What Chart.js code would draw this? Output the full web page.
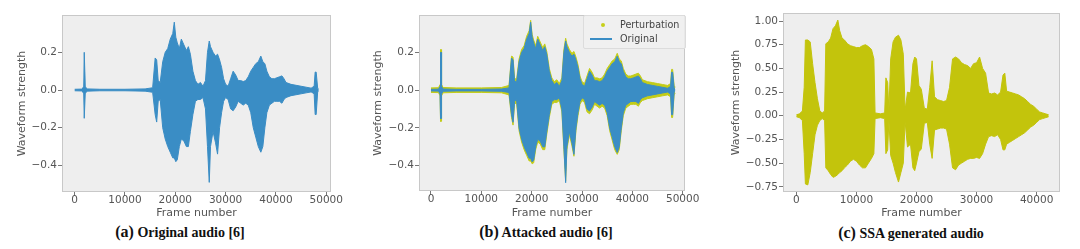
<!DOCTYPE html>
<html>
<head>
<meta charset="utf-8">
<script src="https://cdn.jsdelivr.net/npm/chart.js@4.4.1/dist/chart.umd.min.js"></script>
<style>
  body { margin: 0; background: #fff; width: 1080px; height: 249px; overflow: hidden; position: relative; }
  canvas { position: absolute; top: 0; }
  .cap { position: absolute; font-family: "Liberation Serif", "DejaVu Serif", serif; font-weight: bold; font-size: 14px; color: #111; white-space: nowrap; transform: translate(-50%, -50%); }
  .cap b { font-size: 16px; }
  .legend { position: absolute; font-family: "DejaVu Sans", sans-serif; font-size: 9.6px; color: #444; border: 1px solid #dcdcdc; border-radius: 2px; background: rgba(240,240,240,0.8); padding: 2px 6px 3px 0; }
  .legend div { position: relative; height: 13.5px; line-height: 13.5px; padding-left: 36px; }
  .legend .dot { position: absolute; left: 17px; top: 5px; width: 4px; height: 4px; border-radius: 2px; background: #c7cf1a; }
  .legend .ln { position: absolute; left: 6px; top: 6px; width: 22px; height: 2px; background: #3a8dc5; }
</style>
</head>
<body>
<canvas id="chartA" width="360" height="220" style="left:0px"></canvas>
<canvas id="chartB" width="360" height="220" style="left:360px"></canvas>
<canvas id="chartC" width="360" height="220" style="left:720px"></canvas>
<div class="legend" style="left:583px; top:15px;">
  <div><span class="dot"></span>Perturbation</div>
  <div><span class="ln"></span>Original</div>
</div>
<div class="cap" style="left:180px; top:232px;"><b>(a)</b> Original audio [6]</div>
<div class="cap" style="left:546px; top:232px;"><b>(b)</b> Attacked audio [6]</div>
<div class="cap" style="left:911px; top:233px;"><b>(c)</b> SSA generated audio</div>
<script>
// frame positions shared by the original / attacked audio
const frames = [0, 1500, 1800, 1900, 2000, 2100, 2400, 5000, 10000, 14000, 15500, 16000, 16300, 16600, 17000, 17500, 18000, 18500, 19000, 19500, 19800, 20100, 20400, 20800, 21200, 21700, 22200, 22600, 23000, 23500, 24000, 24500, 25000, 25500, 26000, 26400, 26750, 27000, 27500, 28000, 28400, 28800, 29200, 29600, 30000, 30500, 31000, 31500, 32000, 32500, 33000, 33500, 34000, 34500, 35000, 35500, 36000, 36500, 37000, 37400, 37800, 38200, 38700, 39200, 39700, 40200, 40700, 41200, 41600, 42000, 43000, 44000, 45000, 46000, 47000, 47600, 47800, 48000, 48300, 48500];

const origUpper = [0.004, 0.005, 0.02, 0.2, 0.2, 0.02, 0.006, 0.004, 0.004, 0.006, 0.012, 0.17, 0.16, 0.05, 0.04, 0.15, 0.2, 0.22, 0.27, 0.3, 0.36, 0.28, 0.25, 0.22, 0.27, 0.24, 0.21, 0.23, 0.19, 0.1, 0.05, 0.03, 0.04, 0.02, 0.05, 0.2, 0.26, 0.23, 0.2, 0.18, 0.19, 0.16, 0.12, 0.06, 0.03, 0.02, 0.06, 0.1, 0.08, 0.05, 0.05, 0.045, 0.05, 0.07, 0.1, 0.12, 0.14, 0.15, 0.18, 0.15, 0.14, 0.1, 0.07, 0.06, 0.06, 0.065, 0.07, 0.075, 0.06, 0.04, 0.03, 0.025, 0.02, 0.015, 0.01, 0.02, 0.095, 0.095, 0.01, 0.005];
const origLower = [-0.004, -0.005, -0.02, -0.15, -0.15, -0.02, -0.006, -0.004, -0.004, -0.006, -0.012, -0.13, -0.17, -0.06, -0.05, -0.2, -0.26, -0.3, -0.33, -0.36, -0.36, -0.38, -0.37, -0.3, -0.26, -0.27, -0.3, -0.3, -0.22, -0.13, -0.06, -0.05, -0.05, -0.04, -0.1, -0.3, -0.49, -0.3, -0.22, -0.28, -0.34, -0.2, -0.12, -0.06, -0.04, -0.05, -0.1, -0.11, -0.09, -0.06, -0.07, -0.08, -0.07, -0.08, -0.12, -0.2, -0.25, -0.3, -0.33, -0.3, -0.2, -0.12, -0.08, -0.07, -0.06, -0.06, -0.06, -0.07, -0.05, -0.04, -0.03, -0.025, -0.02, -0.015, -0.01, -0.02, -0.13, -0.13, -0.01, -0.005];

const pertUpper = [0.012, 0.013, 0.03, 0.215, 0.215, 0.03, 0.014, 0.012, 0.012, 0.014, 0.025, 0.18, 0.175, 0.065, 0.055, 0.165, 0.215, 0.235, 0.285, 0.315, 0.37, 0.295, 0.265, 0.235, 0.285, 0.255, 0.225, 0.245, 0.205, 0.115, 0.065, 0.045, 0.055, 0.035, 0.065, 0.215, 0.275, 0.245, 0.215, 0.195, 0.205, 0.175, 0.135, 0.075, 0.045, 0.035, 0.075, 0.115, 0.095, 0.065, 0.065, 0.06, 0.065, 0.085, 0.115, 0.135, 0.155, 0.165, 0.195, 0.165, 0.155, 0.115, 0.085, 0.075, 0.075, 0.08, 0.085, 0.09, 0.075, 0.055, 0.045, 0.04, 0.035, 0.03, 0.025, 0.035, 0.11, 0.11, 0.025, 0.015];
const pertLower = [-0.012, -0.013, -0.03, -0.165, -0.165, -0.03, -0.014, -0.012, -0.012, -0.014, -0.025, -0.145, -0.185, -0.075, -0.065, -0.215, -0.275, -0.315, -0.345, -0.375, -0.375, -0.39, -0.385, -0.315, -0.275, -0.285, -0.315, -0.315, -0.235, -0.145, -0.075, -0.065, -0.065, -0.055, -0.115, -0.315, -0.48, -0.315, -0.235, -0.295, -0.35, -0.215, -0.135, -0.075, -0.055, -0.065, -0.115, -0.125, -0.105, -0.075, -0.085, -0.095, -0.085, -0.095, -0.135, -0.215, -0.265, -0.315, -0.34, -0.315, -0.215, -0.135, -0.095, -0.085, -0.075, -0.075, -0.075, -0.085, -0.065, -0.055, -0.045, -0.04, -0.035, -0.03, -0.025, -0.035, -0.145, -0.145, -0.025, -0.015];

// SSA generated audio
const ssaFrames = [0, 500, 1000, 1300, 1500, 1900, 2300, 2700, 3100, 3500, 3900, 4300, 4700, 4900, 5300, 5700, 6100, 6500, 6900, 7200, 7600, 8000, 8500, 9000, 9500, 10000, 10500, 11000, 11500, 12000, 12500, 12900, 13100, 14000, 14700, 14900, 15200, 15400, 15700, 16100, 16500, 17000, 17400, 17800, 18100, 18500, 19000, 19400, 19700, 20000, 20400, 20800, 21300, 21800, 22200, 22600, 23000, 23500, 24000, 24500, 25000, 25500, 26000, 26500, 27000, 27500, 28000, 28500, 29000, 29500, 30000, 30500, 31000, 31500, 32000, 32500, 33000, 33500, 34000, 34400, 34700, 35000, 35500, 36000, 36500, 37000, 37500, 38000, 38500, 39000, 39500, 40000, 40500, 41000, 41500, 42000];
const ssaUpper = [0.01, 0.02, 0.05, 0.3, 0.8, 0.8, 0.78, 0.55, 0.35, 0.18, 0.05, 0.03, 0.05, 0.76, 0.78, 0.82, 0.92, 0.95, 1.01, 0.9, 0.82, 0.8, 0.76, 0.74, 0.73, 0.72, 0.72, 0.74, 0.75, 0.73, 0.7, 0.6, 0.03, 0.02, 0.03, 0.4, 0.35, 0.05, 0.6, 0.78, 0.83, 0.85, 0.8, 0.65, 0.06, 0.25, 0.24, 0.55, 0.62, 0.6, 0.32, 0.28, 0.08, 0.07, 0.3, 0.58, 0.2, 0.17, 0.16, 0.15, 0.16, 0.3, 0.6, 0.62, 0.6, 0.56, 0.54, 0.53, 0.5, 0.55, 0.56, 0.62, 0.5, 0.45, 0.24, 0.23, 0.24, 0.22, 0.25, 0.43, 0.45, 0.26, 0.25, 0.24, 0.23, 0.22, 0.2, 0.18, 0.15, 0.12, 0.1, 0.07, 0.04, 0.03, 0.02, 0.01];
const ssaLower = [-0.01, -0.02, -0.05, -0.4, -0.72, -0.73, -0.6, -0.4, -0.2, -0.1, -0.05, -0.03, -0.05, -0.55, -0.58, -0.62, -0.65, -0.64, -0.62, -0.6, -0.58, -0.55, -0.52, -0.48, -0.46, -0.48, -0.52, -0.55, -0.55, -0.5, -0.45, -0.4, -0.03, -0.02, -0.03, -0.4, -0.36, -0.05, -0.42, -0.5, -0.6, -0.7, -0.6, -0.5, -0.06, -0.33, -0.3, -0.55, -0.58, -0.5, -0.38, -0.35, -0.08, -0.07, -0.3, -0.45, -0.15, -0.14, -0.13, -0.13, -0.14, -0.3, -0.55, -0.57, -0.52, -0.5, -0.48, -0.46, -0.45, -0.45, -0.44, -0.45, -0.4, -0.3, -0.22, -0.21, -0.22, -0.2, -0.25, -0.36, -0.36, -0.3, -0.28, -0.26, -0.24, -0.22, -0.2, -0.18, -0.15, -0.12, -0.1, -0.07, -0.04, -0.03, -0.02, -0.01];

const xTicksAB = [0, 10000, 20000, 30000, 40000, 50000];
const xTicksC = [0, 10000, 20000, 30000, 40000];
const yTicksAB = [-0.4, -0.2, 0.0, 0.2];
const yTicksC = [-0.75, -0.5, -0.25, 0.0, 0.25, 0.5, 0.75, 1.0];

const BLUE = '#3a8dc5';
const OLIVE = '#c3c40c';
const PERT = '#c2cc18';

const pts = (xs, ys) => xs.map((x, i) => ({ x: x, y: ys[i] }));

function band(xs, up, low, color, label) {
    return [
        { label: label, data: pts(xs, up), borderColor: color, backgroundColor: color, borderWidth: 1, pointRadius: 0, fill: false },
        { label: label, data: pts(xs, low), borderColor: color, backgroundColor: color, borderWidth: 1, pointRadius: 0, fill: '-1' }
    ];
}

const framePlugin = {
    id: 'frame',
    beforeDraw(chart) {
        const { ctx, chartArea: a } = chart;
        ctx.save();
        ctx.fillStyle = '#eeeeee';
        ctx.fillRect(a.left, a.top, a.right - a.left, a.bottom - a.top);
        ctx.restore();
    },
    afterDraw(chart) {
        const { ctx, chartArea: a } = chart;
        ctx.save();
        ctx.strokeStyle = '#c8c8c8';
        ctx.lineWidth = 1;
        ctx.strokeRect(a.left + 0.5, a.top + 0.5, a.right - a.left - 1, a.bottom - a.top - 1);
        ctx.restore();
    }
};

const minus = (s) => s.replace('-', '\u2212');

function makePanel(id, datasets, o) {
    new Chart(document.getElementById(id), {
        type: 'line',
        data: { datasets: datasets },
        plugins: [framePlugin],
        options: {
            responsive: false,
            animation: false,
            layout: { padding: { left: 0, top: o.top, right: o.right, bottom: 0 } },
            plugins: { legend: { display: false }, tooltip: { enabled: false } },
            elements: { line: { tension: 0 } },
            scales: {
                x: {
                    type: 'linear', min: o.xMin, max: o.xMax,
                    afterBuildTicks: (s) => { s.ticks = o.xTicks.map(v => ({ value: v })); },
                    afterFit: (s) => { s.height = o.xH; },
                    ticks: { font: { family: 'DejaVu Sans', size: 10.5 }, color: '#555', padding: -2, maxRotation: 0, callback: (v) => String(v) },
                    grid: { drawOnChartArea: false, tickLength: 4, color: '#777' },
                    border: { display: false },
                    title: { display: true, text: 'Frame number', font: { family: 'DejaVu Sans', size: 11 }, color: '#555', padding: { top: 0, bottom: 0 } }
                },
                y: {
                    min: o.yMin, max: o.yMax,
                    afterBuildTicks: (s) => { s.ticks = o.yTicks.map(v => ({ value: v })); },
                    afterFit: (s) => { s.width = o.yW; },
                    ticks: { font: { family: 'DejaVu Sans', size: 10.5 }, color: '#555', padding: 1, callback: (v) => minus(v.toFixed(o.dec)) },
                    grid: { drawOnChartArea: false, tickLength: 4, color: '#777' },
                    border: { display: false },
                    title: { display: true, text: 'Waveform strength', font: { family: 'DejaVu Sans', size: 11 }, color: '#555', padding: { top: o.yTitlePad, bottom: 0 } }
                }
            }
        }
    });
}

makePanel('chartA', band(frames, origUpper, origLower, BLUE, 'Original'), {
    top: 15, right: 29, xH: 28, yW: 62, yTitlePad: 16,
    xMin: -2520, xMax: 50950, yMin: -0.541, yMax: 0.398,
    xTicks: xTicksAB, yTicks: yTicksAB, dec: 1
});

// original drawn on top of the perturbation band (dataset 0 is painted last)
makePanel('chartB', band(frames, origUpper, origLower, BLUE, 'Original').concat(band(frames, pertUpper, pertLower, PERT, 'Perturbation')), {
    top: 15, right: 35, xH: 29, yW: 59, yTitlePad: 12,
    xMin: -2380, xMax: 50460, yMin: -0.534, yMax: 0.398,
    xTicks: xTicksAB, yTicks: yTicksAB, dec: 1
});

makePanel('chartC', band(ssaFrames, ssaUpper, ssaLower, OLIVE, 'SSA'), {
    top: 13, right: 20, xH: 28, yW: 63, yTitlePad: 10,
    xMin: -2230, xMax: 43890, yMin: -0.805, yMax: 1.085,
    xTicks: xTicksC, yTicks: yTicksC, dec: 2
});
</script>
</body>
</html>
